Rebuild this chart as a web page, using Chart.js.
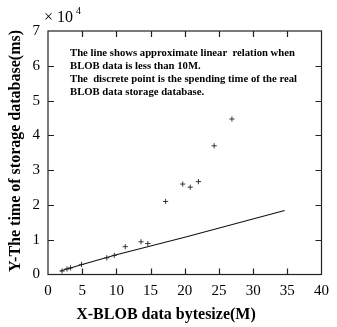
<!DOCTYPE html>
<html>
<head>
<meta charset="utf-8">
<script src="https://cdn.jsdelivr.net/npm/chart.js@4/dist/chart.umd.min.js"></script>
<style>
  body { margin: 0; background: #fff; }
  #wrap { width: 337px; height: 327px; position: relative; }
</style>
</head>
<body>
<div id="wrap"><canvas id="blobChart"></canvas></div>
<script>
// measured points (size in M, time in ms)
const pointSizes = [2.06, 2.78, 3.3, 4.9, 8.6, 9.7, 11.3, 13.6, 14.6, 17.2, 19.7, 20.8, 22.0, 24.3, 26.9];
const pointTimes = [1000, 1600, 1900, 2900, 4800, 5500, 8000, 9400, 8900, 21000, 26000, 25100, 26700, 37000, 44700];

// approximate linear relation
const lineSizes = [1.8, 5, 10, 20, 34.6];
const lineTimes = [1000, 2900, 5700, 10700, 18400];

const xTicks = [0, 5, 10, 15, 20, 25, 30, 35, 40];
const yTicks = [0, 1, 2, 3, 4, 5, 6, 7];   // x 10^4

const noteLines = [
    'The line shows approximate linear  relation when',
    'BLOB data is less than 10M.',
    'The  discrete point is the spending time of the real',
    'BLOB data storage database.'
];

const serif = "'Liberation Serif', 'DejaVu Serif', serif";

// frame, inward ticks, titles and note
const framePlugin = {
    id: 'frame',
    afterDraw(chart) {
        const ctx = chart.ctx;
        const a = chart.chartArea;
        const xs = chart.scales.x, ys = chart.scales.y;
        const tl = 6;
        ctx.save();
        ctx.strokeStyle = '#222';
        ctx.lineWidth = 1.2;
        ctx.strokeRect(a.left, a.top, a.right - a.left, a.bottom - a.top);

        ctx.beginPath();
        xTicks.slice(1, -1).forEach(v => {
            const px = Math.round(xs.getPixelForValue(v)) + 0.5;
            ctx.moveTo(px, a.bottom); ctx.lineTo(px, a.bottom - tl);
            ctx.moveTo(px, a.top); ctx.lineTo(px, a.top + tl);
        });
        yTicks.slice(1, -1).forEach(v => {
            const py = Math.round(ys.getPixelForValue(v * 10000)) + 0.5;
            ctx.moveTo(a.left, py); ctx.lineTo(a.left + tl, py);
            ctx.moveTo(a.right, py); ctx.lineTo(a.right - tl, py);
        });
        ctx.stroke();

        ctx.fillStyle = '#000';
        // exponent
        ctx.font = '16px ' + serif;
        ctx.textAlign = 'left';
        ctx.textBaseline = 'alphabetic';
        ctx.fillText('\u00d7 10', 44, 22);
        ctx.font = '10px ' + serif;
        ctx.fillText('4', 76, 14);

        // note
        ctx.font = 'bold 10.7px ' + serif;
        ctx.textBaseline = 'middle';
        const lineY = [53, 66, 79.5, 92];
        noteLines.forEach((t, i) => ctx.fillText(t, 70, lineY[i]));

        // axis titles
        ctx.font = 'bold 16px ' + serif;
        ctx.textAlign = 'center';
        ctx.fillText('X-BLOB data bytesize(M)', 166, 315);
        ctx.translate(16, 151);
        ctx.rotate(-Math.PI / 2);
        ctx.fillText('Y-The time of storage database(ms)', 0, 0);
        ctx.restore();
    }
};

new Chart(document.getElementById('blobChart'), {
    type: 'scatter',
    data: {
        datasets: [{
            label: 'measured',
            data: pointSizes.map((x, i) => ({ x: x, y: pointTimes[i] })),
            pointStyle: 'cross',
            pointRadius: 2.6,
            borderColor: '#222',
            borderWidth: 0.9,
            showLine: false
        }, {
            label: 'linear',
            data: lineSizes.map((x, i) => ({ x: x, y: lineTimes[i] })),
            showLine: true,
            borderColor: '#111',
            borderWidth: 1.1,
            pointRadius: 0,
            tension: 0
        }]
    },
    options: {
        responsive: true,
        maintainAspectRatio: false,
        animation: false,
        layout: { padding: { top: 31, right: 10, left: 0, bottom: 0 } },
        plugins: { legend: { display: false }, tooltip: { enabled: false } },
        scales: {
            x: {
                type: 'linear',
                min: 0, max: 40,
                afterBuildTicks: s => { s.ticks = xTicks.map(v => ({ value: v })); },
                afterFit: s => { s.height = 52.5; },
                grid: { display: false, drawTicks: false },
                border: { display: false },
                ticks: { color: '#000', padding: 8, font: { family: serif, size: 15 }, maxRotation: 0 }
            },
            y: {
                type: 'linear',
                min: 0, max: 70000,
                afterBuildTicks: s => { s.ticks = yTicks.map(v => ({ value: v * 10000 })); },
                afterFit: s => { s.width = 48; },
                grid: { display: false, drawTicks: false },
                border: { display: false },
                ticks: {
                    color: '#000', padding: 8, font: { family: serif, size: 15 },
                    callback: v => String(v / 10000)
                }
            }
        }
    },
    plugins: [framePlugin]
});
</script>
</body>
</html>
